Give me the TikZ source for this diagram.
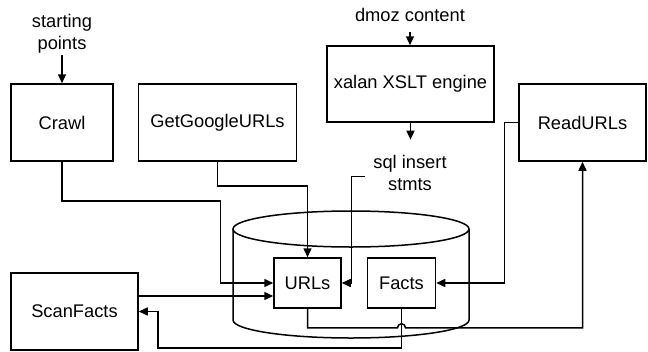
\documentclass[tikz,border=0pt]{standalone}
\usepackage{fontspec}
\setmainfont{Liberation Sans}
\usetikzlibrary{arrows.meta, positioning, calc}

\begin{document}
\begin{tikzpicture}[
  x=1pt, y=-1pt,
  font=\fontsize{18.3}{22}\selectfont,
  block/.style={rectangle, draw=black, line width=1.5pt, minimum width=102pt, minimum height=77pt, inner sep=0pt},
  dbbox/.style={rectangle, draw=black, line width=1.5pt, minimum width=67pt, minimum height=50pt, inner sep=0pt},
  txt/.style={align=center, inner sep=0pt},
  db/.style={line width=1.5pt},
  arrow/.style={line width=1.5pt, -{Triangle[length=9pt, width=8pt]}}
]
  \useasboundingbox (0,0) rectangle (648,351);

  % Prozesse
  \node (crawl) [block] at (62,122.5) {Crawl};
  \node (google) [block, minimum width=158pt, right=24pt of crawl] {GetGoogleURLs};
  \node (xalan) [block, minimum width=167pt, minimum height=76pt] at (410.5,84) {xalan XSLT engine};
  \node (readurls) [block, minimum width=127pt] at (582.5,122.5) {ReadURLs};
  \node (scanfacts) [block, minimum width=127pt] at (74.5,311.5) {ScanFacts};

  % Datenbank
  \draw [db] (351,229) ellipse [x radius=118, y radius=18];
  \draw [db] (233,229) -- (233,320) arc [start angle=180, end angle=0, x radius=118, y radius=18] -- (469,229);
  \node (urls) [dbbox] at (307.5,283) {URLs};
  \node (facts) [dbbox, minimum width=68pt, right=25pt of urls] {Facts};

  % Beschriftungen
  \node (startpts) [txt, inner sep=2pt] at (62,33.5) {starting\\points};
  \node (dmoz) [txt] at (410,15) {dmoz content};
  \node (sql) [txt] at (410,173.3) {sql insert\\stmts};
  \coordinate (sqlstub) at ([xshift=-8.5pt, yshift=-3pt]sql.west);

  % Verbindungen
  \draw [arrow] (startpts) -- (crawl);
  \draw [arrow, shorten <=10pt] (dmoz) -- (dmoz |- xalan.north);
  \draw [arrow, shorten >=15.7pt] (xalan.south) -- (xalan.south |- sql.north);
  \draw [arrow] (crawl.south) -- ++(0,39) -| ([xshift=-53pt]urls.west) -- (urls.west);
  \draw [arrow] (google.south) -- ++(0,24) -| (urls.north);
  \draw [arrow] (sqlstub) -- ++(-13,0) |- (urls.east);
  \draw [arrow] (readurls.west) -- ++(-14,0) |- (facts.east);
  \coordinate (urlsin) at ([yshift=-13pt]urls.west);
  \draw [arrow] (urlsin -| scanfacts.east) -- (urlsin);
  \draw [arrow] (facts.south) -- ++(0,39) -| ([xshift=19pt]scanfacts.east) -- (scanfacts.east);
  \draw [arrow] (urls.south) -- ++(0,19) -- ($(facts.south)+(-4,19)$) arc [start angle=180, end angle=360, radius=4] -| (readurls.south);

\end{tikzpicture}
\end{document}
